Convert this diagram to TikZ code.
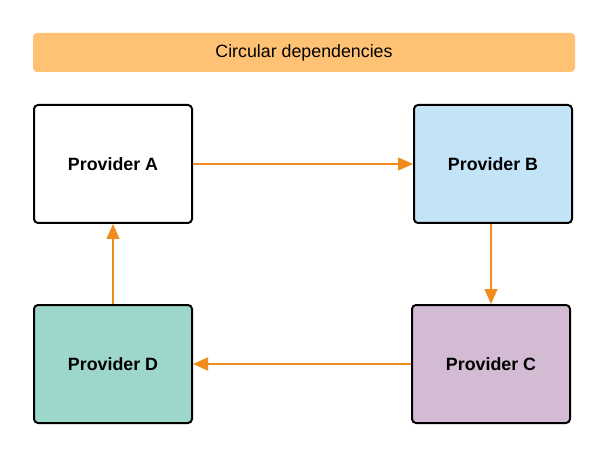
\documentclass[tikz,border=0pt]{standalone}
\usepackage{fontspec}
\setmainfont{Liberation Sans}
\usetikzlibrary{arrows.meta}
\definecolor{titlefill}{HTML}{FFC274}
\definecolor{bfill}{HTML}{C2E4F6}
\definecolor{cfill}{HTML}{D3BBD3}
\definecolor{dfill}{HTML}{9DD6CB}
\definecolor{arrowc}{HTML}{F08C1E}
\tikzset{
  prov/.style={draw=black, line width=2pt, rounded corners=4pt, minimum width=158pt, minimum height=118pt, font=\fontsize{17.8}{20}\selectfont\bfseries, inner sep=0pt},
  dep/.style={draw=arrowc, line width=1.6pt, -{Triangle[length=15pt,width=13pt]}}
}
\begin{document}
\begin{tikzpicture}[x=1pt,y=-1pt]
\useasboundingbox (0,0) rectangle (605,449);
\node[fill=titlefill, rounded corners=4pt, minimum width=542pt, minimum height=39pt, inner sep=0pt, font=\fontsize{17.8}{20}\selectfont] (title) at (304,52.5) {Circular dependencies};
\node[prov, fill=white] (A) at (113,164) {Provider A};
\node[prov, fill=bfill] (B) at (493,164) {Provider B};
\node[prov, fill=cfill] (C) at (491,364) {Provider C};
\node[prov, fill=dfill] (D) at (113,364) {Provider D};
\draw[dep] (A.east) -- (B.west);
\draw[dep] ([xshift=-2pt]B.south) -- ([xshift=0pt]C.north);
\draw[dep] (C.west) -- (D.east);
\draw[dep] (D.north) -- (A.south);
\end{tikzpicture}
\end{document}
